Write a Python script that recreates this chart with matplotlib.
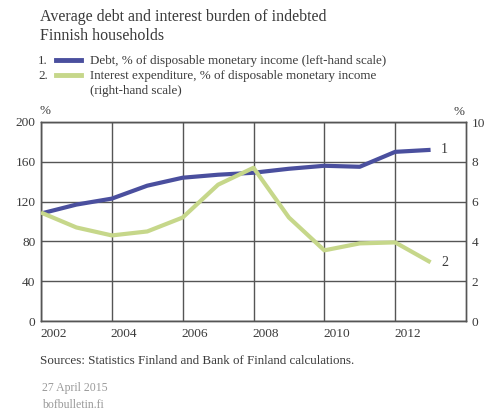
import matplotlib
matplotlib.use("Agg")
import matplotlib.pyplot as plt
import matplotlib.transforms as mtransforms

years = [2002, 2003, 2004, 2005, 2006, 2007, 2008, 2009, 2010, 2011, 2012, 2013]
debt = [108, 117, 123, 136, 144, 147, 149, 153, 156, 155, 170, 172]
interest = [5.45, 4.7, 4.3, 4.5, 5.2, 6.85, 7.7, 5.2, 3.55, 3.9, 3.95, 2.95]
xticks = [2002, 2004, 2006, 2008, 2010, 2012]
yticks_left = [0, 40, 80, 120, 160, 200]
yticks_right = [0, 2, 4, 6, 8, 10]

FONT = "Liberation Serif"
plt.rcParams["font.family"] = [FONT, "DejaVu Serif"]
TXT = "#3a3a3a"
BLUE = "#4a4f9e"
GREEN = "#c6d78a"
GRID = "#555555"

W, H = 484, 412
fig = plt.figure(figsize=(W / 100, H / 100), dpi=100)
ax = fig.add_axes([41 / W, 1 - 321 / H, (466 - 41) / W, (321 - 122) / H])
ax2 = ax.twinx()

ax.set_xlim(2002, 2014)
ax.set_ylim(0, 200)
ax2.set_ylim(0, 10)

ax.plot(years, debt, color=BLUE, lw=3, solid_capstyle="butt", zorder=3)
ax2.plot(years, interest, color=GREEN, lw=3, solid_capstyle="butt", zorder=3)

ax.set_xticks(xticks)
ax.set_xticklabels([str(x) for x in xticks], ha="left")
ax.set_yticks(yticks_left)
ax2.set_yticks(yticks_right)
ax.grid(True, color=GRID, lw=1)
for a in (ax, ax2):
    a.tick_params(length=0, labelsize=9.6, colors=TXT, pad=4)
    for s in a.spines.values():
        s.set_color(GRID)
        s.set_linewidth(1)
ax.tick_params(axis="x", pad=5)
ax.set_zorder(2)
ax.patch.set_visible(False)
ax2.set_zorder(3)

offset = mtransforms.ScaledTranslation(-1 / 100, 0, fig.dpi_scale_trans)
for lab in ax.get_xticklabels():
    lab.set_transform(lab.get_transform() + offset)

ax.text(2013.3, 172, "1", fontsize=10, color=TXT, va="center", ha="left")
ax2.text(2013.3, 2.95, "2", fontsize=10, color=TXT, va="center", ha="left")

def fy(py):
    return 1 - py / H

def fx(px):
    return px / W

TS = 11.5
LS = 9.4
fig.text(fx(40), fy(17), "Average debt and interest burden of indebted", fontsize=TS, color=TXT, va="center")
fig.text(fx(40), fy(36), "Finnish households", fontsize=TS, color=TXT, va="center")

fig.text(fx(38), fy(61), "1.", fontsize=LS, color=TXT, va="center")
fig.text(fx(38), fy(76), "2.", fontsize=LS, color=TXT, va="center")
fig.add_artist(plt.Line2D([fx(56), fx(81)], [fy(60), fy(60)], color=BLUE, lw=3.5))
fig.add_artist(plt.Line2D([fx(56), fx(81)], [fy(75), fy(75)], color=GREEN, lw=3.5))
fig.text(fx(90), fy(61), "Debt, % of disposable monetary income (left-hand scale)", fontsize=LS, color=TXT, va="center")
fig.text(fx(90), fy(76), "Interest expenditure, % of disposable monetary income", fontsize=LS, color=TXT, va="center")
fig.text(fx(90), fy(91), "(right-hand scale)", fontsize=LS, color=TXT, va="center")

fig.text(fx(40), fy(111), "%", fontsize=LS, color=TXT, va="center")
fig.text(fx(454), fy(112), "%", fontsize=LS, color=TXT, va="center")

fig.text(fx(40), fy(361), "Sources: Statistics Finland and Bank of Finland calculations.", fontsize=LS, color=TXT, va="center")
fig.text(fx(42), fy(388), "27 April 2015", fontsize=8.5, color="#9a9a9a", va="center")
fig.text(fx(42), fy(405), "bofbulletin.fi", fontsize=8.5, color="#9a9a9a", va="center")

fig.savefig("out.png", dpi=100)
